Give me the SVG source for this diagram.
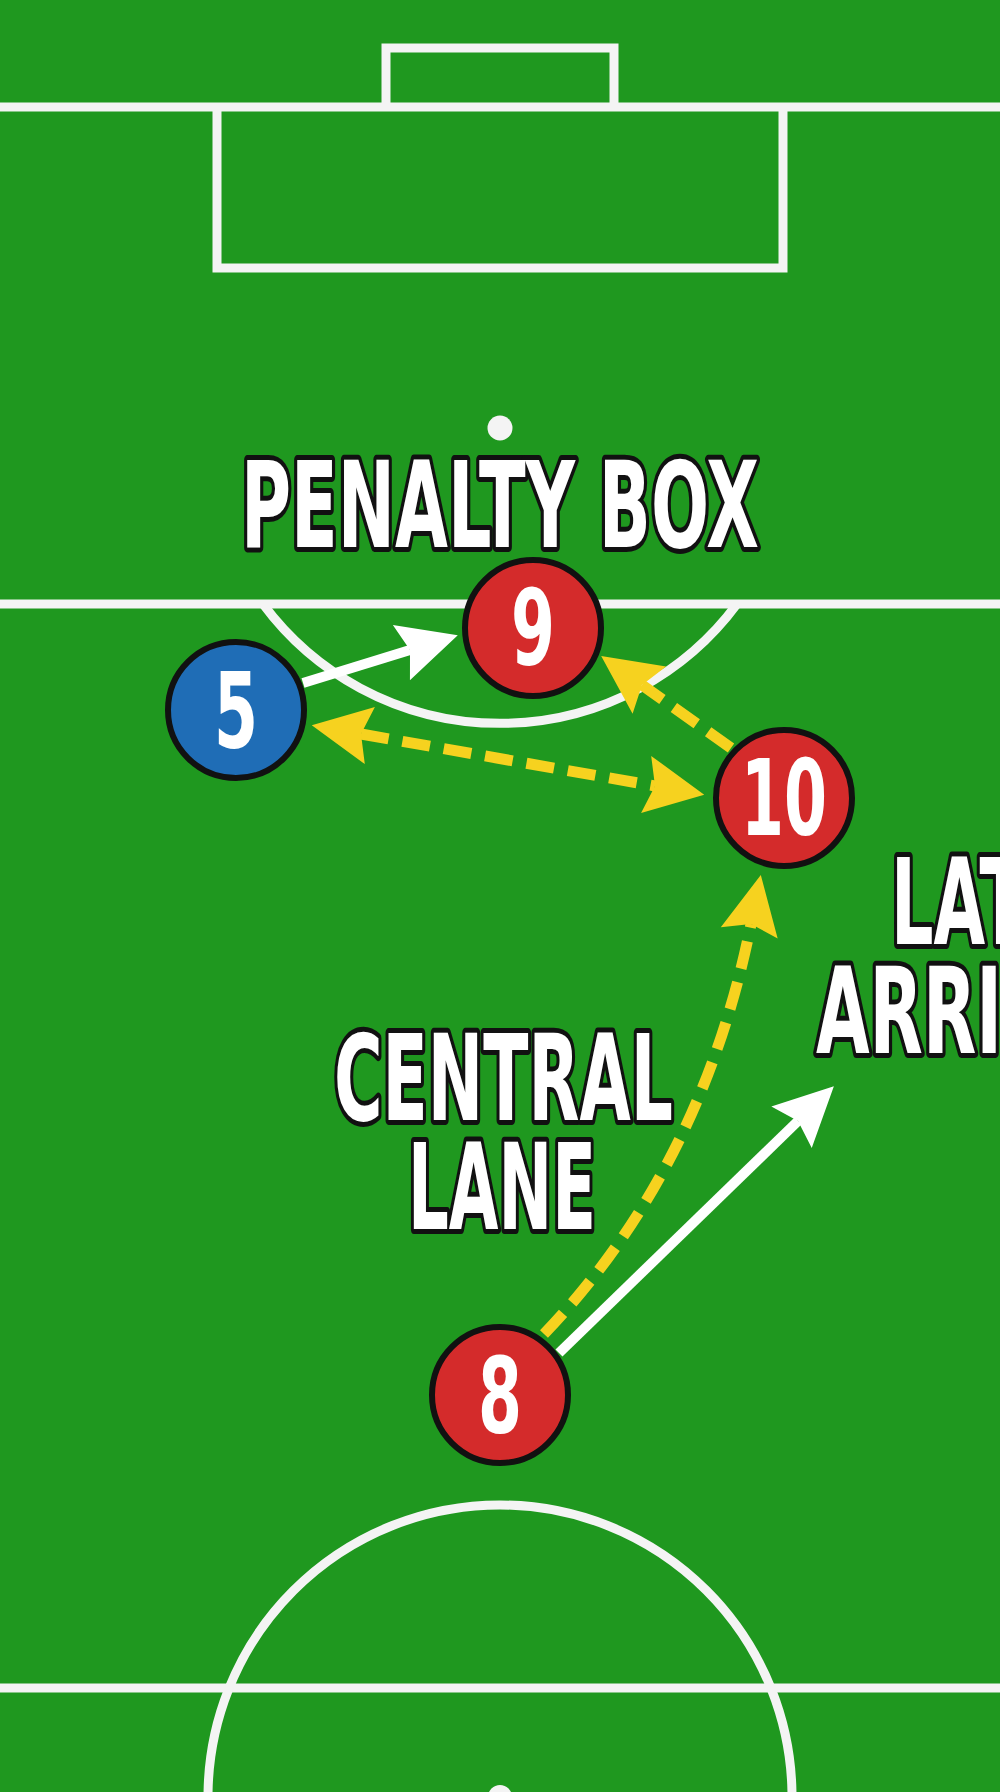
<svg xmlns="http://www.w3.org/2000/svg" width="1000" height="1792" viewBox="0 0 1000 1792">
  <style>
    .field { fill: none; stroke: #f4f4f4; stroke-width: 9; }
    .spot { fill: #f4f4f4; }
    .node { stroke: #111; stroke-width: 6; }
    .red { fill: #d42b2b; }
    .blue { fill: #1f6db6; }
    .num { font-family: "Liberation Sans Narrow", "DejaVu Sans Condensed", "Liberation Sans", sans-serif; font-weight: bold; font-size: 105px; fill: #fff; text-anchor: middle; }
    .lbl { font-family: "Liberation Sans Narrow", "DejaVu Sans Condensed", "Liberation Sans", sans-serif; font-weight: bold; font-size: 120px; fill: #fff; stroke: #111; stroke-width: 10; stroke-linejoin: round; paint-order: stroke; }
    .run { fill: none; stroke: #fff; stroke-width: 10; }
    .pass { fill: none; stroke: #f6d21f; stroke-width: 11; stroke-dasharray: 28 14; }
  </style>
  <defs>
    <marker id="headW" viewBox="-12 -32 66 64" refX="0" refY="0" markerWidth="66" markerHeight="64" markerUnits="userSpaceOnUse" orient="auto">
      <path d="M50,0 L-9,-29 L0,0 L-9,29 Z" fill="#fff"/>
    </marker>
    <marker id="headY" viewBox="-12 -32 66 64" refX="0" refY="0" markerWidth="66" markerHeight="64" markerUnits="userSpaceOnUse" orient="auto-start-reverse">
      <path d="M50,0 L-9,-29 L0,0 L-9,29 Z" fill="#f6d21f"/>
    </marker>
  </defs>

  <g id="pitch">
    <rect x="0" y="0" width="1000" height="1792" fill="#1f981f"/>
    <path class="field" d="M386,107 V48 H614 V107"/>
    <line class="field" x1="0" y1="107" x2="1000" y2="107"/>
    <path class="field" d="M217,107 V268 H783 V107"/>
    <circle class="spot" cx="500" cy="428" r="12.5"/>
    <line class="field" x1="0" y1="604" x2="1000" y2="604"/>
    <path class="field" d="M263,604 A295,295 0 0 0 737,604"/>
    <line class="field" x1="0" y1="1688" x2="1000" y2="1688"/>
    <circle class="field" cx="500" cy="1797" r="292"/>
    <circle class="spot" cx="500" cy="1797" r="12"/>
  </g>

  <g id="connectors">
    <path id="run-5-9" class="run" d="M303,683 L410,650" marker-end="url(#headW)"/>
    <path id="pass-5-10" class="pass" d="M361,734 L655,786" marker-start="url(#headY)" marker-end="url(#headY)"/>
    <path id="pass-10-9" class="pass" d="M731,748 L642,685" marker-end="url(#headY)"/>
    <path id="pass-8-10" class="pass" d="M544,1334 Q702,1169 751,924" marker-end="url(#headY)"/>
    <path id="run-8-late" class="run" d="M559,1353 L798,1121" marker-end="url(#headW)"/>
  </g>

  <g id="node-9">
    <circle class="node red" cx="533" cy="628" r="68"/>
    <text class="num" x="533" y="665" textLength="44" lengthAdjust="spacingAndGlyphs">9</text>
  </g>
  <g id="node-5">
    <circle class="node blue" cx="236" cy="710" r="68"/>
    <text class="num" x="236" y="748" textLength="44" lengthAdjust="spacingAndGlyphs">5</text>
  </g>
  <g id="node-10">
    <circle class="node red" cx="784" cy="798" r="68"/>
    <text class="num" x="784" y="835" textLength="86" lengthAdjust="spacingAndGlyphs">10</text>
  </g>
  <g id="node-8">
    <circle class="node red" cx="500" cy="1395" r="68"/>
    <text class="num" x="500" y="1433" textLength="44" lengthAdjust="spacingAndGlyphs">8</text>
  </g>

  <g id="label-penalty-box">
    <text class="lbl" x="241" y="547" textLength="518" lengthAdjust="spacingAndGlyphs">PENALTY BOX</text>
  </g>
  <g id="label-central-lane">
    <text class="lbl"><tspan x="334" y="1120" textLength="339" lengthAdjust="spacingAndGlyphs">CENTRAL</tspan><tspan x="408" y="1229" textLength="188" lengthAdjust="spacingAndGlyphs">LANE</tspan></text>
  </g>
  <g id="label-late-arrival">
    <text class="lbl"><tspan x="891" y="944" textLength="134" lengthAdjust="spacingAndGlyphs">LAT</tspan><tspan x="816" y="1053" textLength="186" lengthAdjust="spacingAndGlyphs">ARRI</tspan></text>
  </g>
</svg>
